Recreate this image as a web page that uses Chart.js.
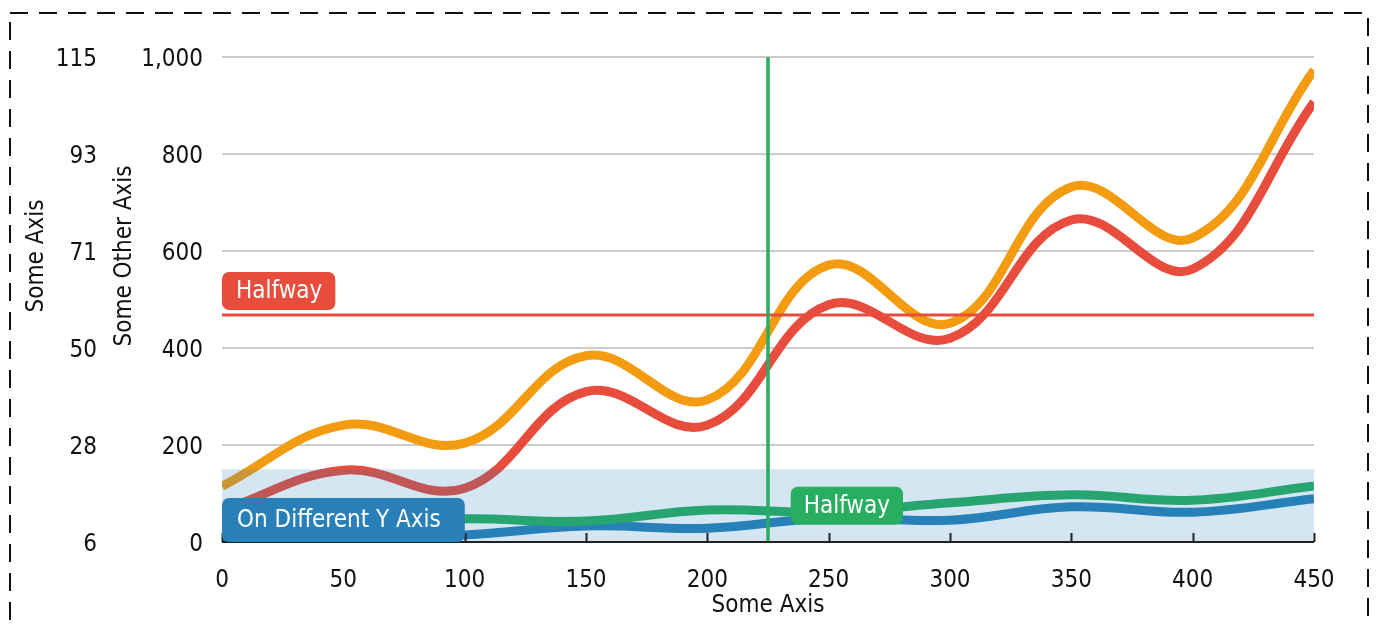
<!DOCTYPE html>
<html>
<head>
<meta charset="utf-8">
<script src="https://cdn.jsdelivr.net/npm/chart.js@4"></script>
<style>
  body { margin: 0; background: #fff; }
  #wrap { width: 1381px; height: 625px; }
</style>
</head>
<body>
<div id="wrap"><canvas id="chart" width="1381" height="625"></canvas></div>
<script>
const xValues = [0, 50, 100, 150, 200, 250, 300, 350, 400, 450];
const orangeValues = [115, 241, 204, 384, 293, 571, 451, 732, 627, 973];
const redValues = [65, 148, 111, 310, 241, 489, 420, 664, 563, 907];
const greenValues = [8.2, 10.2, 11.2, 10.7, 13.2, 12.7, 14.8, 16.6, 15.4, 18.6];
const blueValues = [6.4, 7.1, 7.6, 9.6, 9.1, 11.4, 10.9, 13.9, 12.7, 15.7];

const xTicks = [0, 50, 100, 150, 200, 250, 300, 350, 400, 450];
const outerTicks = [6, 27.8, 49.6, 71.4, 93.2, 115];
const innerTicks = [0, 200, 400, 600, 800, 1000];

const halfwayX = 225;
const halfwayY = 468;
const boxRange = [0, 150];

const FONT = "'DejaVu Sans Condensed', 'DejaVu Sans', sans-serif";
Chart.defaults.font.family = FONT;
Chart.defaults.font.size = 24;
Chart.defaults.color = '#111';

function pairs(vals) {
  return xValues.map((v, i) => ({ x: v, y: vals[i] }));
}

// rounded label box, text left-padded by padL, box right-padded by padR
function tag(ctx, text, left, top, h, padL, padR, color) {
  ctx.font = '24px ' + FONT;
  const tw = ctx.measureText(text).width;
  ctx.fillStyle = color;
  ctx.beginPath();
  ctx.roundRect(left, top, tw + padL + padR, h, 7);
  ctx.fill();
  ctx.fillStyle = '#fff';
  ctx.textAlign = 'left';
  ctx.textBaseline = 'middle';
  ctx.fillText(text, left + padL, top + h / 2 + 1);
}

const overlay = {
  id: 'overlay',
  afterDatasetsDraw(chart) {
    const { ctx, chartArea: a, scales: { x, y } } = chart;
    ctx.save();
    // shaded band, drawn over the lines
    const bTop = y.getPixelForValue(boxRange[1]);
    const bBot = y.getPixelForValue(boxRange[0]);
    ctx.fillStyle = 'rgba(41, 128, 185, 0.2)';
    ctx.fillRect(a.left, bTop, a.right - a.left, bBot - bTop);

    // horizontal line
    const hy = y.getPixelForValue(halfwayY);
    ctx.strokeStyle = '#e74c3c';
    ctx.lineWidth = 3;
    ctx.beginPath();
    ctx.moveTo(a.left, hy);
    ctx.lineTo(a.right, hy);
    ctx.stroke();

    // vertical line
    const vx = x.getPixelForValue(halfwayX);
    ctx.strokeStyle = '#27ae60';
    ctx.lineWidth = 3.5;
    ctx.beginPath();
    ctx.moveTo(vx, a.top);
    ctx.lineTo(vx, a.bottom);
    ctx.stroke();

    // x axis line and inner ticks
    ctx.strokeStyle = '#222';
    ctx.lineWidth = 2;
    ctx.beginPath();
    ctx.moveTo(a.left, a.bottom);
    ctx.lineTo(a.right, a.bottom);
    xTicks.forEach(v => {
      const px = Math.round(x.getPixelForValue(v)) + 0.5;
      ctx.moveTo(px, a.bottom);
      ctx.lineTo(px, a.bottom - 9);
    });
    ctx.stroke();

    // labels
    tag(ctx, 'Halfway', a.left, hy - 43, 38, 14, 13, '#e74c3c');
    ctx.font = '24px ' + FONT;
    const gw = ctx.measureText('Halfway').width + 26;
    const gcx = x.getPixelForValue(257.5);
    const gcy = y.getPixelForValue(75);
    tag(ctx, 'Halfway', gcx - gw / 2, gcy - 19, 38, 13, 13, '#27ae60');
    tag(ctx, 'On Different Y Axis', a.left, a.bottom - 44, 44, 15, 24, '#2980b9');
    ctx.restore();
  },
  afterDraw(chart) {
    const { ctx, chartArea: a } = chart;
    ctx.save();
    ctx.font = '24px ' + FONT;
    ctx.fillStyle = '#111';
    ctx.textAlign = 'center';
    ctx.textBaseline = 'middle';
    ctx.fillText('Some Axis', (a.left + a.right) / 2, 606);
    [[37, 'Some Axis'], [125, 'Some Other Axis']].forEach(([tx, t]) => {
      ctx.save();
      ctx.translate(tx, 256);
      ctx.rotate(-Math.PI / 2);
      ctx.fillText(t, 0, 0);
      ctx.restore();
    });
    // dashed frame
    ctx.strokeStyle = '#111';
    ctx.lineWidth = 2;
    ctx.setLineDash([18, 11]);
    ctx.strokeRect(10, 13, 1358, 700);
    ctx.restore();
  }
};

new Chart(document.getElementById('chart'), {
  type: 'line',
  data: {
    datasets: [
      { data: pairs(orangeValues), borderColor: '#f39c12', yAxisID: 'y' },
      { data: pairs(redValues), borderColor: '#e74c3c', yAxisID: 'y' },
      { data: pairs(greenValues), borderColor: '#27ae60', yAxisID: 'y2' },
      { data: pairs(blueValues), borderColor: '#2980b9', yAxisID: 'y2' },
    ],
  },
  options: {
    responsive: false,
    animation: false,
    events: [],
    layout: { padding: { top: 57, right: 67, bottom: 0, left: 0 } },
    elements: {
      line: { borderWidth: 9, tension: 0.4, fill: false, borderCapStyle: 'butt' },
      point: { radius: 0 },
    },
    plugins: { legend: { display: false }, tooltip: { enabled: false } },
    scales: {
      x: {
        type: 'linear',
        min: 0,
        max: 450,
        afterBuildTicks: s => { s.ticks = xTicks.map(v => ({ value: v })); },
        afterFit: s => { s.height = 83; },
        grid: { display: false, drawTicks: false },
        border: { display: false },
        ticks: { padding: 24, color: '#111', maxRotation: 0 },
      },
      y: {
        position: 'left',
        weight: 0,
        min: 0,
        max: 1000,
        afterBuildTicks: s => { s.ticks = innerTicks.map(v => ({ value: v })); },
        afterFit: s => { s.width = 115; },
        grid: { color: '#cccccc', lineWidth: 2, drawTicks: false },
        border: { display: false },
        ticks: { padding: 19, color: '#111', labelOffset: 3 },
      },
      y2: {
        position: 'left',
        weight: 1,
        min: 6,
        max: 115,
        afterBuildTicks: s => { s.ticks = outerTicks.map(v => ({ value: v })); },
        afterFit: s => { s.width = 107; },
        grid: { display: false, drawTicks: false },
        border: { display: false },
        ticks: { padding: 10, color: '#111', labelOffset: 3, callback: v => Math.round(v) },
      },
    },
  },
  plugins: [overlay],
});
</script>
</body>
</html>
